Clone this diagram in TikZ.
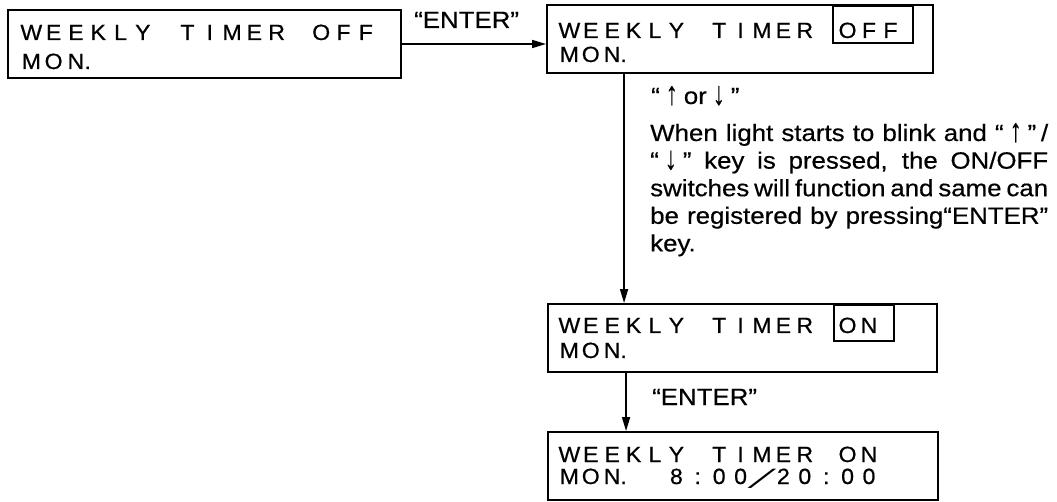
\documentclass[tikz,border=0pt]{standalone}
\usepackage{fontspec}
\usepackage{graphicx}
\setmainfont{Liberation Sans}[FakeStretch=1.1, FakeBold=0.5]
\newfontfamily\lcdfont{Liberation Sans}[FakeStretch=1.05, FakeBold=0.6]
\newfontfamily\djv{DejaVu Sans}
\usetikzlibrary{arrows.meta}
\newlength\lcdw
\ExplSyntaxOn
\NewDocumentCommand\lcd{O{21.4pt}m}{\setlength\lcdw{#1}\tl_map_inline:nn{#2}{\makebox[\lcdw][c]{##1}}}
\ExplSyntaxOff
\newcommand\lcdslash{{\djv\scalebox{1.9}[0.75]{╱}}}
\newcommand\lcddot{\makebox[\lcdw][l]{\kern-2.5pt.}}
\newcommand\uparr{\raisebox{-0.5pt}{\scalebox{0.95}[1.4]{↑}}}
\newcommand\dnarr{\raisebox{-0.5pt}{\scalebox{0.95}[1.4]{↓}}}
\tikzset{
  lcdbox/.style={draw, line width=1.9pt, inner sep=0pt},
  selbox/.style={draw, line width=1.6pt, inner sep=0pt, anchor=north west},
  lcdtext/.style={anchor=base west, inner sep=0pt, font=\lcdfont\fontsize{22}{23}\selectfont},
  lbl/.style={anchor=base west, inner sep=0pt, font=\fontsize{23.5}{28}\selectfont},
  arr/.style={-{Triangle[length=14pt,width=8pt]}, line width=1.6pt}
}
\begin{document}
\begin{tikzpicture}[x=1pt,y=-1pt]
\useasboundingbox (0,0) rectangle (1057,502);
% boxes
\node[lcdbox, minimum width=393pt, minimum height=68pt] (b1) at (204.5,44) {};
\node[lcdbox, minimum width=386pt, minimum height=68pt] (b2) at (740,39) {};
\node[lcdbox, minimum width=389pt, minimum height=68pt] (b3) at (742.5,338) {};
\node[lcdbox, minimum width=390pt, minimum height=68pt] (b4) at (743,466) {};
% selection frames
\node[selbox, minimum width=80pt, minimum height=37pt] (offsel) at (832,5) {};
\node[selbox, minimum width=60pt, minimum height=36pt] (onsel) at (833,304) {};
% box texts
\node[lcdtext] (t1a) at (20,40) {\lcd[22.3pt]{WEEKLY~TIMER~OFF}};
\node[lcdtext] (t1b) at (20,69) {\lcd[22.3pt]{MON{\lcddot}}};
\node[lcdtext] (t2a) at (558.5,38) {\lcd{WEEKLY~TIMER~OFF}};
\node[lcdtext] (t2b) at (558.5,62) {\lcd{MON{\lcddot}}};
\node[lcdtext] (t3a) at (558.5,333) {\lcd{WEEKLY~TIMER~ON}};
\node[lcdtext] (t3b) at (558.5,358) {\lcd{MON{\lcddot}}};
\node[lcdtext] (t4a) at (558.5,462) {\lcd{WEEKLY~TIMER~ON}};
\node[lcdtext] (t4b) at (558.5,484) {\lcd{MON{\lcddot}~8:00{\lcdslash}20:00}};
% connectors
\draw[arr] (b1.east) -- (b1.east -| b2.west);
\draw[arr] ([xshift=78pt]b2.south west) -- ([xshift=78pt]b2.south west |- b3.north);
\draw[arr] ([xshift=79pt]b3.south west) -- ([xshift=79pt]b3.south west |- b4.north);
% labels
\node[lbl] (l1) at (414,28) {“ENTER”};
\node[lbl] (l2) at (652,405) {“ENTER”};
\node[lbl] (l3) at (651,104) {“\kern.25em\uparr\kern.25em or\kern.25em\dnarr\kern.25em”};
\node[anchor=base west, inner sep=0pt] (para) at (650,141)
  {\parbox[t]{398pt}{\fontsize{23.5}{27.6}\selectfont When light starts to blink and “\kern.25em\uparr\kern.25em”\kern.2em/\linebreak
   “\kern.25em\dnarr\kern.25em” key is pressed, the ON/OFF\linebreak
   switches will function and same can\linebreak
   be registered by pressing“ENTER”\linebreak
   key.}};
\end{tikzpicture}
\end{document}
